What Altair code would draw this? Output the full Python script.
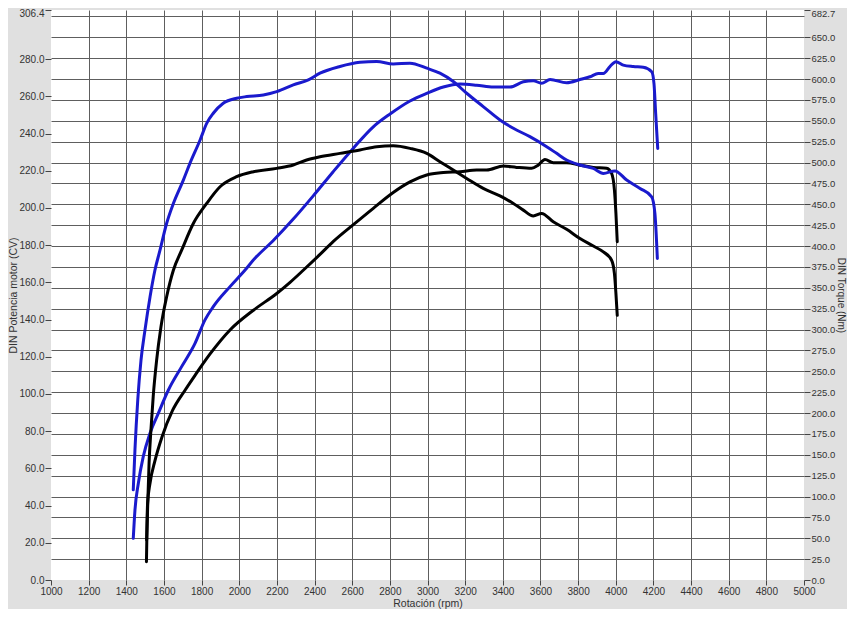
import altair as alt
import pandas as pd

# Blue run: torque (Nm) and power (CV)
BT_RPM = [1437,1446,1461,1478,1499,1526,1552,1579,1614,1650,1703,1738,1792,1827,1862,1915,1986,2040,2128,2199,2287,2367,2429,2535,2641,2730,2818,2907,2996,3066,3137,3208,3296,3385,3456,3544,3633,3686,3739,3810,3881,3934,3996,4058,4129,4191,4208,4221]
BT_NM = [108,156,216,263,299,339,371,395,427,451,479,499,527,547,559,571,577,579,581,585,593,599,607,615,620,621,618,619,613,607,597,583,567,551,541,531,519,511,503,497,493,487,490,479,469,459,439,385]

BP_RPM = [1437,1446,1464,1490,1526,1570,1623,1694,1765,1818,1862,1951,2031,2075,2181,2287,2393,2499,2605,2712,2801,2907,2996,3084,3173,3261,3350,3438,3509,3562,3606,3651,3739,3810,3863,3907,3934,3969,4001,4040,4093,4146,4191,4203,4212,4223]
BP_CV = [22.4,37.6,52,66.3,78.9,89.6,102,114.7,127.2,139.8,146.9,157.7,166.6,172,182.5,194,206.5,219.5,232,243.6,250.5,257.5,261.6,265,266.6,266,265,265,267.8,268.4,267,269,267.3,269,270.5,272.3,272.3,276,278.6,276.8,276,275.6,273.2,267,250.8,232]

# Black run: torque (Nm) and power (CV)
KT_RPM = [1507,1509,1514,1521,1531,1543,1561,1584,1614,1650,1694,1756,1827,1898,1986,2075,2199,2287,2358,2429,2535,2641,2730,2818,2907,2996,3066,3137,3208,3296,3385,3456,3509,3562,3606,3668,3739,3810,3881,3934,3978,3993,4001,4008]
KT_NM = [22,48,92,140,180,220,263,303,339,371,395,427,451,471,483,489,493,497,503,507,511,515,519,520,517,511,501,491,481,469,460,451,443,436,439,429,420,409,400,393,383,367,343,317]

KP_RPM = [1508,1513,1526,1552,1590,1645,1712,1765,1845,1951,2075,2199,2270,2340,2429,2500,2606,2712,2818,2907,2996,3084,3173,3261,3314,3403,3473,3553,3588,3624,3668,3739,3810,3881,3952,3978,3993,4001,4008]
KP_CV = [21.5,41,52,64,77,91,102,110,121.5,134.4,145,154,160,166.5,175,182,191,199.8,208.3,214,217.7,219,219.5,220.4,220.4,222.5,221.8,221.3,223,226,224.3,224.3,223,221.8,221.3,218.6,209.6,197,181.8]

X_TICKS = list(range(1000, 5001, 200))
CV_TICKS = list(range(0, 281, 20)) + [306.4]
NM_TICKS = list(range(0, 676, 25)) + [682.7]

def frame(rpm, val, run):
    return pd.DataFrame({"rpm": rpm, "val": val, "run": run, "idx": range(len(rpm))})

power = pd.concat([frame(BP_RPM, BP_CV, "blue"), frame(KP_RPM, KP_CV, "black")])
torque = pd.concat([frame(BT_RPM, BT_NM, "blue"), frame(KT_RPM, KT_NM, "black")])

FONT = "Liberation Sans"
LBL = "#333333"
GRID = "#5e5e5e"

color = alt.Color("run:N", scale=alt.Scale(domain=["blue", "black"], range=["#1a1acd", "#000000"]), legend=None)

x_enc = alt.X(
    "rpm:Q",
    scale=alt.Scale(domain=[1000, 5000], nice=False, zero=False),
    axis=alt.Axis(
        values=X_TICKS, format="d", title="Rotación (rpm)", grid=True,
        gridColor=GRID, gridWidth=1,
        gridOpacity={"condition": {"test": "datum.value <= 1000 || datum.value >= 5000", "value": 0}, "value": 1},
        domain=False, tickColor="#444", tickSize=5, labelPadding=1,
        labelFlush=False, labelOverlap=False, labelFont=FONT, labelFontSize=10, labelColor=LBL,
        titleFont=FONT, titleFontSize=10.5, titleFontWeight="normal", titleColor=LBL,
        titleX=376.5, titleY=23.5, titleBaseline="middle",
    ),
)

line_kw = dict(strokeWidth=3, interpolate="monotone", strokeJoin="round", strokeCap="round")

p_layer = alt.Chart(power).mark_line(**line_kw).encode(
    x=x_enc,
    y=alt.Y(
        "val:Q",
        scale=alt.Scale(domain=[0, 306.4], nice=False),
        axis=alt.Axis(
            orient="left", values=CV_TICKS, format=".1f", title="DIN Potencia motor (CV)", grid=False,
            domain=False, tickColor="#444", tickSize=6, labelPadding=1, labelOverlap=False,
            labelOffset={"condition": {"test": "datum.value > 300", "value": 3}, "value": 0},
            labelFont=FONT, labelFontSize=10, labelColor=LBL,
            titleFont=FONT, titleFontSize=10.5, titleFontWeight="normal", titleColor=LBL,
            titleX=-37.5, titleY=285, titleBaseline="middle", titleAngle=270,
        ),
    ),
    color=color,
    detail="run:N",
    order="idx:Q",
)

t_layer = alt.Chart(torque).mark_line(**line_kw).encode(
    x=x_enc,
    y=alt.Y(
        "val:Q",
        scale=alt.Scale(domain=[0, 682.7], nice=False),
        axis=alt.Axis(
            orient="right", values=NM_TICKS, title="DIN Torque (Nm)", grid=True,
            labelExpr="datum.value == 675 ? '' : format(datum.value, '.1f')",
            gridColor=GRID, gridWidth=1,
            gridOpacity={"condition": {"test": "datum.value == 0 || datum.value > 680", "value": 0}, "value": 1},
            tickOpacity={"condition": {"test": "datum.value == 675", "value": 0}, "value": 1},
            labelOffset={"condition": {"test": "datum.value > 680", "value": 3}, "value": 0},
            domain=False, tickColor="#444", tickSize=6, labelPadding=1, labelOverlap=False,
            labelFont=FONT, labelFontSize=9.5, labelColor=LBL,
            titleFont=FONT, titleFontSize=10, titleFontWeight="normal", titleColor=LBL,
            titleX=36.5, titleY=285, titleBaseline="middle", titleAngle=90,
        ),
    ),
    color=color,
    detail="run:N",
    order="idx:Q",
)

chart = (
    alt.layer(p_layer, t_layer)
    .resolve_scale(y="independent")
    .properties(
        width=753, height=570,
        padding={"left": 43, "top": 2, "right": 43, "bottom": 29},
        autosize=alt.AutoSizeParams(type="none"),
    )
    .configure(background="#e0e0e0")
    .configure_view(fill="white", strokeWidth=0)
)

chart.save("out.html", embed_options={"renderer": "svg", "actions": False})
